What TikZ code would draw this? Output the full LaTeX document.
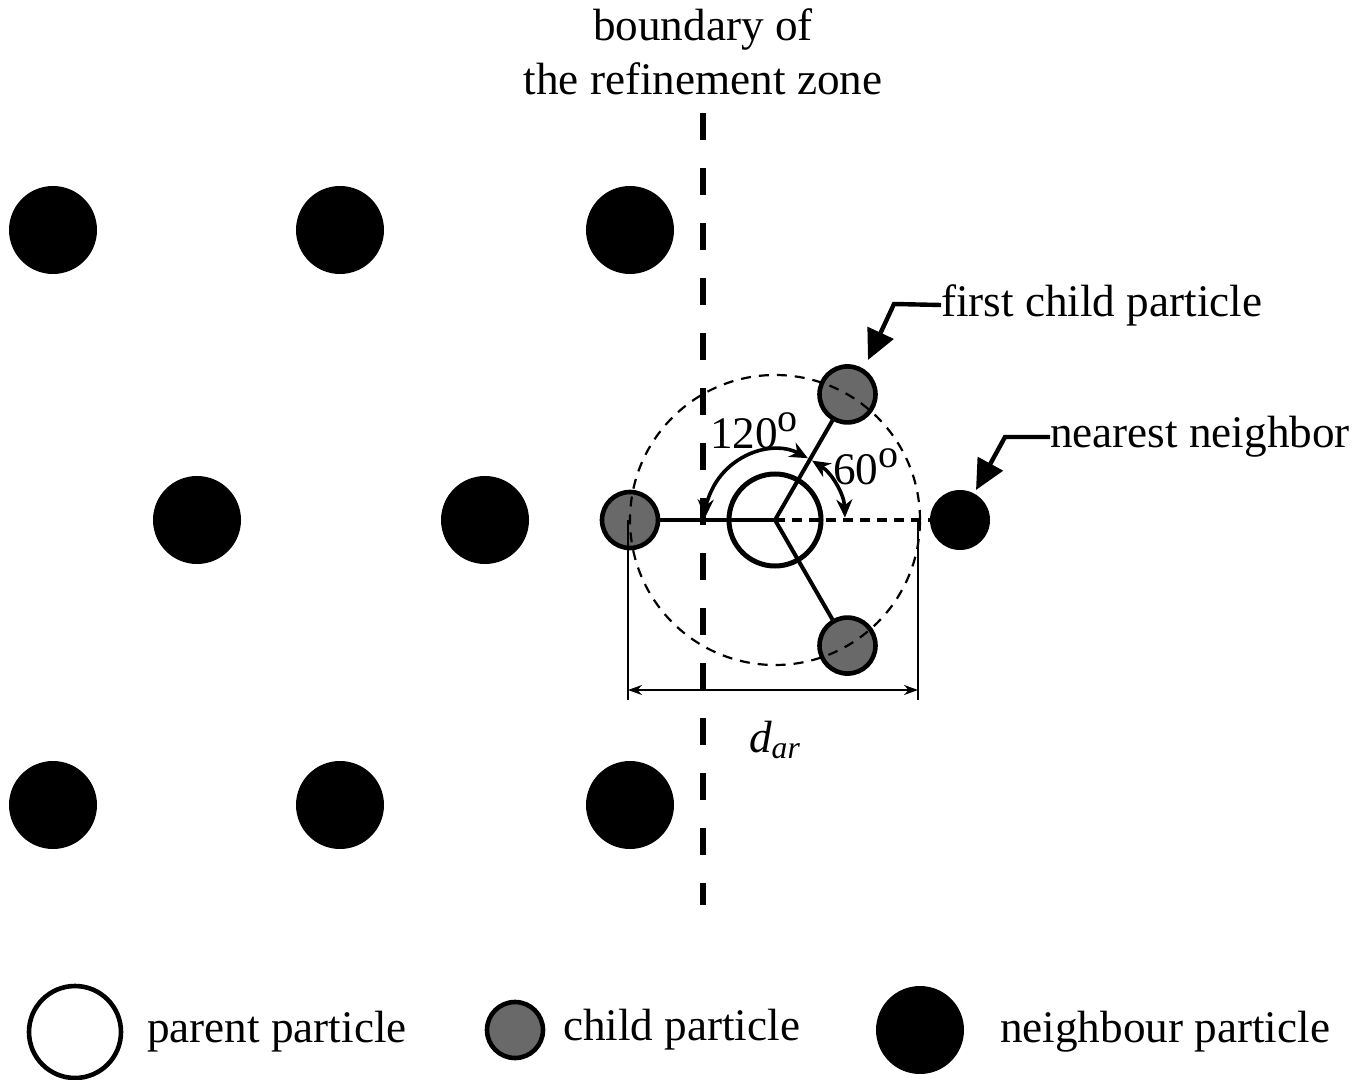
\documentclass[tikz,border=0pt]{standalone}
\usepackage{fontspec}
\setmainfont{Liberation Serif}
\usetikzlibrary{arrows.meta,calc}
\definecolor{childgrey}{HTML}{696969}
\newcommand{\degsup}{\raisebox{8.5pt}{\fontsize{20pt}{20pt}\selectfont o}}
\begin{document}
\begin{tikzpicture}[x=0.5pt,y=0.5pt,
  every node/.style={inner sep=0pt,outer sep=0pt},
  nbr/.style={circle,fill=black,minimum size=44pt},
  nbrsmall/.style={circle,fill=black,minimum size=30pt},
  chld/.style={circle,fill=childgrey,draw=black,line width=2.3pt,minimum size=28pt},
  parent/.style={circle,fill=none,draw=black,line width=2.5pt,minimum size=46pt},
  lbl/.style={font=\fontsize{22.6pt}{27pt}\selectfont},
  callout/.style={line width=2.2pt,-{Triangle[length=15pt,width=14pt]}},
  angarrow/.style={line width=1.8pt,{Stealth[length=9pt,width=8pt]}-{Stealth[length=9pt,width=8pt]}},
  dimline/.style={line width=0.8pt},
]
\useasboundingbox (0,0) rectangle (1370,-1080);
% boundary
\coordinate (b1) at (703,-113);
\coordinate (b2) at (703,-905);
\draw[line width=3.2pt,dash pattern=on 13.5pt off 14pt] (b1) -- (b2);
\node[lbl,align=center] (title) at (703,-52) {boundary of\\the refinement zone};
% neighbour particles
\node[nbr] (n1) at (53,-230) {};
\node[nbr] (n2) at (340,-230) {};
\node[nbr] (n3) at (630,-230) {};
\node[nbr] (n4) at (197,-520) {};
\node[nbr] (n5) at (485,-520) {};
\node[nbr] (n6) at (53,-805) {};
\node[nbr] (n7) at (340,-805) {};
\node[nbr] (n8) at (630,-805) {};
\node[nbrsmall] (nn) at (960,-520) {};
% parent and children
\node[parent] (P) at (775,-520) {};
\node[chld] (c1) at ($(P.center)+(60:72.5pt)$) {};
\node[chld] (c2) at ($(P.center)+(180:72.5pt)$) {};
\node[chld] (c3) at ($(P.center)+(-60:72.5pt)$) {};
% dimension lines
\coordinate (dL) at (628,-520);
\coordinate (dR) at (918,-520);
\coordinate (dLb) at (628,-700);
\coordinate (dRb) at (918,-700);
\coordinate (aL) at (628,-690);
\coordinate (aR) at (918,-690);
\draw[dimline] (dL) -- (dLb);
\draw[dimline] (dR) -- (dRb);
\draw[dimline,{Stealth[length=7pt,width=5pt]}-{Stealth[length=7pt,width=5pt]}] (aL) -- (aR);
\node[lbl,font=\fontsize{22.6pt}{27pt}\selectfont\itshape] (dar) at (775,-740) {d\textsubscript{ar}};
% spokes
\draw[line width=2pt] (P.center) -- (c1);
\draw[line width=2pt] (P.center) -- (c2);
\draw[line width=2pt] (P.center) -- (c3);
\draw[line width=1.6pt,dash pattern=on 5pt off 3.5pt] (P.center) -- (nn);
% dashed circle
\draw[line width=1.1pt,dash pattern=on 5pt off 4pt] (P.center) circle[radius=72.5pt];
% angle arcs
\draw[angarrow] ([shift={(62:35pt)}]P.center) arc[start angle=62,end angle=178,radius=35pt];
\draw[angarrow] ([shift={(2:35pt)}]P.center) arc[start angle=2,end angle=58,radius=35pt];
\node[lbl,anchor=base west] (a120) at (710,-448) {120\degsup};
\node[lbl,anchor=base west] (a60) at (833,-484) {60\degsup};
% callouts
\node[lbl,anchor=west] (tfc) at (941,-305) {first child particle};
\coordinate (k1) at (894,-304);
\draw[callout] (tfc.west) -- (k1) -- (868,-360);
\node[lbl,anchor=west] (tnn) at (1050,-437) {nearest neighbor};
\coordinate (k2) at (1005,-437);
\draw[callout] (tnn.west) -- (k2) -- (976,-490);
% legend
\node[circle,draw=black,line width=2.3pt,minimum size=46pt] (lp) at (75,-1032) {};
\node[lbl,anchor=west] (lpt) at (147,-1032) {parent particle};
\node[chld] (lc) at (515,-1030) {};
\node[lbl,anchor=west] (lct) at (563,-1030) {child particle};
\node[nbr] (ln) at (920,-1030) {};
\node[lbl,anchor=west] (lnt) at (1000,-1032) {neighbour particle};
\end{tikzpicture}
\end{document}
